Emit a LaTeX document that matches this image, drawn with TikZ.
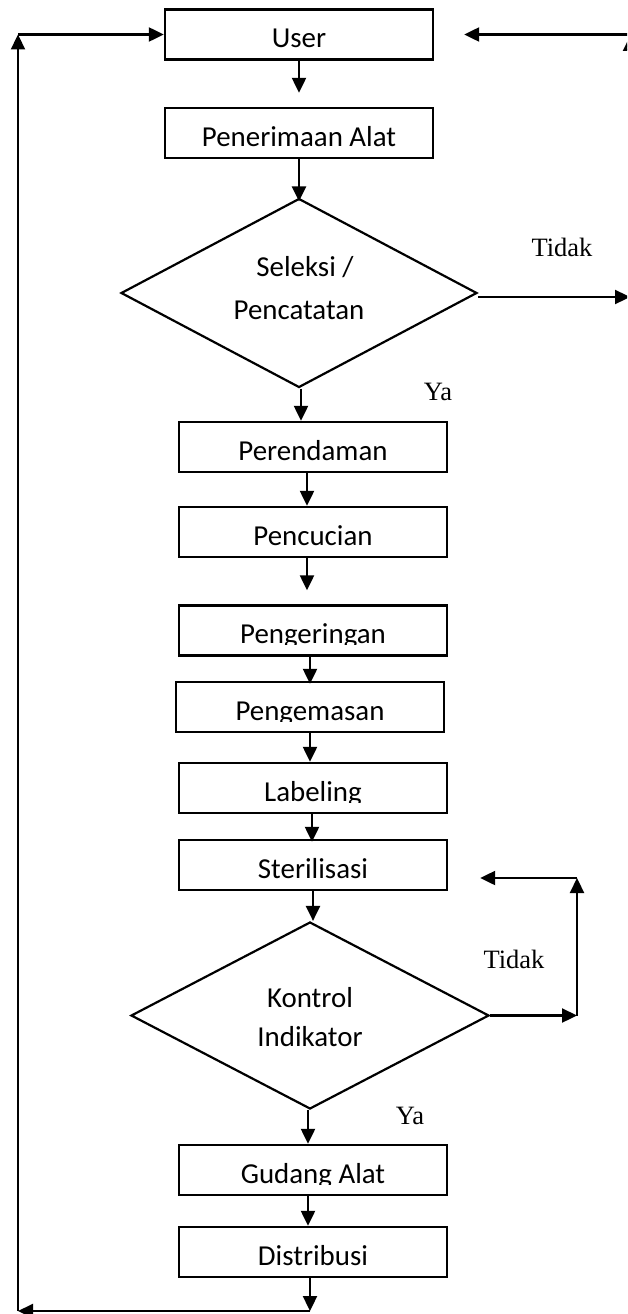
\documentclass[tikz,border=0pt]{standalone}
\usepackage{fontspec}
\newfontfamily\boxfont{Carlito}
\newfontfamily\labfont{Liberation Serif}
\usetikzlibrary{arrows.meta,shapes.geometric}
\newcommand\boxtxt{\boxfont\fontsize{28.9pt}{34pt}\selectfont}
\newcommand\labtxt{\labfont\fontsize{26.5pt}{30pt}\selectfont}
\tikzset{
  stepbox/.style={draw, line width=2.4pt, minimum width=268pt, minimum height=50pt,
    inner sep=0pt, font=\boxtxt, text height=26pt, text depth=0pt},
  decision/.style={draw, diamond, line width=2.2pt, inner sep=0pt},
  dtext/.style={font=\boxtxt, inner sep=0pt, anchor=base},
  lab/.style={font=\labtxt, inner sep=0pt, anchor=base},
  flow/.style={line width=2.3pt, -{Triangle[length=15pt,width=14pt]}},
  % box text whose descenders are cut off by the frame's inner margin
  cuttext/.style={path picture={
    \clip ([yshift=11pt]path picture bounding box.south west) rectangle (path picture bounding box.north east);
    \node[font=\boxtxt, inner sep=0pt, anchor=base, draw=none, fill=none, minimum size=0pt]
      at ([yshift=12pt]path picture bounding box.south) {#1};}},
}
\begin{document}
\begin{tikzpicture}[x=1pt, y=-1pt]
\path[use as bounding box] (0,0) rectangle (627,1314);
\clip (0,0) rectangle (627,1314);

% process steps
\node[stepbox] (user)   at (299,34.5) {User};
\node[stepbox] (recv)   at (299,133)  {Penerimaan Alat};
\node[decision, minimum width=356pt, minimum height=189pt] (d1) at (299,293) {};
\node[dtext] (d1a) at (305,276) {Seleksi /};
\node[dtext] (d1b) at (299,319) {Pencatatan};
\node[stepbox] (soak)   at (313,447)  {Perendaman};
\node[stepbox] (wash)   at (313,532)  {Pencucian};
\node[stepbox, cuttext=Pengeringan] (dry)   at (313,630.5) {};
\node[stepbox, cuttext=Pengemasan]  (pack)  at (310,707)   {};
\node[stepbox, cuttext=Labeling]    (label) at (313,788)   {};
\node[stepbox] (steril) at (313,865)  {Sterilisasi};
\node[decision, minimum width=358pt, minimum height=187pt] (d2) at (310,1015.5) {};
\node[dtext] (d2a) at (310,1007) {Kontrol};
\node[dtext] (d2b) at (310,1046) {Indikator};
\node[stepbox, cuttext=Gudang Alat] (store) at (313,1170) {};
\node[stepbox] (dist)   at (313,1252) {Distribusi};

% branch labels
\node[lab] (no1)  at (562,256)  {Tidak};
\node[lab] (yes1) at (438,400)  {Ya};
\node[lab] (no2)  at (514,968)  {Tidak};
\node[lab] (yes2) at (410,1124) {Ya};

% corner points of the return loops
\coordinate (bm) at (310,1311);
\coordinate (bl) at (18,1311);
\coordinate (tl) at (18,34.5);
\coordinate (rm) at (630,297);
\coordinate (rt) at (630,36);
\coordinate (rh) at (630,34.5);
\coordinate (k1) at (577,1015.5);
\coordinate (k2) at (577,878);

% main flow
\draw[flow, shorten >=14pt] (user.south) -- (recv.north);
\draw[flow, shorten >=-4pt] (recv.south) -- (d1.north);
\draw[flow] ([xshift=2pt]d1.south) -- ([xshift=2pt]d1.south |- soak.north);
\draw[flow] ([xshift=-6pt]soak.south) -- ([xshift=-6pt]wash.north);
\draw[flow, shorten >=14pt] ([xshift=-6pt]wash.south) -- ([xshift=-6pt]dry.north);
\draw[flow, shorten >=-3pt] ([xshift=-3pt]dry.south) -- (pack.north);
\draw[flow] (pack.south) -- ([xshift=-3pt]label.north);
\draw[flow, shorten >=-3pt] ([xshift=-1pt]label.south) -- ([xshift=-1pt]steril.north);
\draw[flow] (steril.south) -- (steril.south |- d2.north);
\draw[flow] ([xshift=-2pt]d2.south) -- ([xshift=-2pt]d2.south |- store.north);
\draw[flow] ([xshift=-5pt]store.south) -- ([xshift=-5pt]dist.north);
\draw[flow] ([xshift=-3pt]dist.south) -- (bm);

% return from distribution to user
\draw[flow] (bm) -- (bl);
\draw[flow] (bl) -- (tl);
\draw[flow] (tl) -- (user.west);

% rejected at selection
\draw[flow] ([yshift=-4pt]d1.east) -- (rm);
\draw[flow] (rm) -- (rt);
\draw[flow, shorten >=30pt] (rh) -- (user.east);

% indicator failed: back to sterilisation
\draw[flow] (d2.east) -- (k1);
\draw[flow] (k1) -- (k2);
\draw[flow, shorten >=32pt] (k2) -- (k2 -| steril.east);
\end{tikzpicture}
\end{document}
